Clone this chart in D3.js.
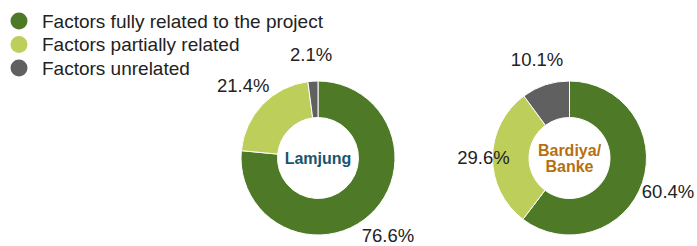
<!DOCTYPE html>
<html>
<head>
<meta charset="utf-8">
<style>
    body { margin: 0; background: #fff; }
    svg text { font-family: "Liberation Sans", Arial, sans-serif; }
</style>
<script src="https://cdn.jsdelivr.net/npm/d3@7"></script>
</head>
<body>
<script>
    // data
    var categories = ["Factors fully related to the project", "Factors partially related", "Factors unrelated"]
    var colors = ["#4e7a28", "#bdce5b", "#606060"]
    var regions = ["Lamjung", "Bardiya/Banke"]
    var regionLines = [["Lamjung"], ["Bardiya/", "Banke"]]
    var regionColors = ["#17556f", "#b5700f"]
    var lamjung = [76.6, 21.4, 2.1]
    var bardiya = [60.4, 29.6, 10.1]

    var width = 697, height = 246
    var svg = d3.select("body").append("svg")
        .attr("width", width)
        .attr("height", height)

    // legend
    var legend = svg.append("g").attr("transform", "translate(19,21)")
    var item = legend.selectAll("g")
        .data(categories)
        .enter().append("g")
        .attr("transform", (d, i) => `translate(0,${i * 23.5})`)
    item.append("circle")
        .attr("r", 8.5)
        .attr("fill", (d, i) => colors[i])
    item.append("text")
        .attr("x", 23)
        .attr("dy", "0.36em")
        .attr("font-size", 19)
        .attr("fill", "#222")
        .text(d => d)

    var outerR = 77, innerR = 40.5
    var pie = d3.pie().sort(null).value(d => d)
    var arc = d3.arc().innerRadius(innerR).outerRadius(outerR)

    function labelRadius(a) {
        return Math.abs(Math.sin(a)) > 0.99 ? 86 : 104
    }

    function donut(values, idx, cx, cy) {
        var g = svg.append("g").attr("transform", `translate(${cx},${cy})`)
        var slices = pie(values)

        g.selectAll("path")
            .data(slices)
            .enter().append("path")
            .attr("d", arc)
            .attr("fill", (d, i) => colors[i])
            .attr("stroke", "#fff")
            .attr("stroke-width", 1)

        g.selectAll("text.pct")
            .data(slices)
            .enter().append("text")
            .attr("class", "pct")
            .attr("x", d => {
                var a = (d.startAngle + d.endAngle) / 2
                return Math.sin(a) * labelRadius(a)
            })
            .attr("y", d => {
                var a = (d.startAngle + d.endAngle) / 2
                return -Math.cos(a) * labelRadius(a)
            })
            .attr("dy", "0.36em")
            .attr("text-anchor", "middle")
            .attr("font-size", 18.5)
            .attr("fill", "#222")
            .text(d => d.data.toFixed(1) + "%")

        var lines = regionLines[idx]
        g.selectAll("text.name")
            .data(lines)
            .enter().append("text")
            .attr("class", "name")
            .attr("text-anchor", "middle")
            .attr("y", (d, i) => (i - (lines.length - 1) / 2) * 16.5)
            .attr("dy", "0.36em")
            .attr("font-size", 16)
            .attr("font-weight", "bold")
            .attr("fill", regionColors[idx])
            .text(d => d)
    }

    donut(lamjung, 0, 318, 158)
    donut(bardiya, 1, 569.5, 158)
</script>
</body>
</html>
